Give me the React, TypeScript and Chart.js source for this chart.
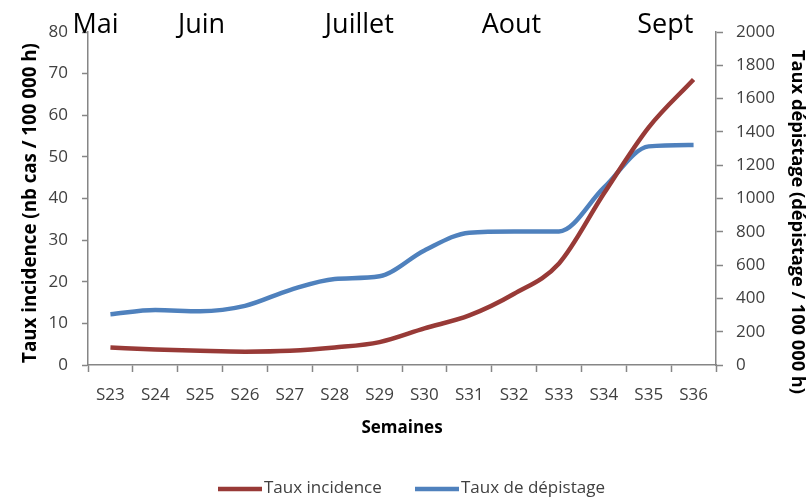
import React, { useEffect, useRef } from "react";
import { Chart, registerables } from "chart.js";

Chart.register(...registerables);

const weeks = ["S23", "S24", "S25", "S26", "S27", "S28", "S29", "S30", "S31", "S32", "S33", "S34", "S35", "S36"];
const incidence = [4.2, 3.7, 3.4, 3.2, 3.4, 4.2, 5.5, 8.8, 11.9, 17.1, 24.4, 41.2, 57.1, 68.6];
const depistage = [305, 330, 323, 355, 450, 517, 533, 688, 795, 802, 802, 1065, 1313, 1322];
const months = ["Mai", "Juin", "Juillet", "Aout", "Sept"];
const monthAnchors = [-0.33, 2.03, 5.55, 8.94, 12.37];
const leftTitle = "Taux incidence (nb cas / 100 000 h)";
const rightTitle = "Taux dépistage (dépistage / 100 000 h)";

const FONT = "'Open Sans', sans-serif";
const RED = "#983A37";
const BLUE = "#4F81BD";
const AXIS = "#868686";
const TEXT = "#404040";

const monthPlugin = {
  id: "months",
  afterDraw(chart: any) {
    const ctx = chart.ctx;
    const x = chart.scales.x;
    ctx.save();
    ctx.font = `27px ${FONT}`;
    ctx.fillStyle = "#000";
    ctx.textAlign = "center";
    ctx.textBaseline = "alphabetic";
    months.forEach((m, i) => {
      ctx.fillText(m, x.getPixelForValue(monthAnchors[i]), 33);
    });
    ctx.restore();
  },
};

function drawFitted(ctx: any, text: string, cx: number, cy: number, len: number, rot: number) {
  ctx.save();
  ctx.font = `bold 18px ${FONT}`;
  const w = ctx.measureText(text).width;
  const size = (18 * len) / w;
  ctx.font = `bold ${size.toFixed(2)}px ${FONT}`;
  ctx.translate(cx, cy);
  ctx.rotate(rot);
  ctx.fillStyle = "#000";
  ctx.textAlign = "center";
  ctx.textBaseline = "middle";
  ctx.fillText(text, 0, 0);
  ctx.restore();
}

const titlePlugin = {
  id: "yTitles",
  afterDraw(chart: any) {
    const ctx = chart.ctx;
    drawFitted(ctx, leftTitle, 31, 203, 320, -Math.PI / 2);
    drawFitted(ctx, rightTitle, 797, 222, 344, Math.PI / 2);
  },
};

const legendPlugin = {
  id: "customLegend",
  afterDraw(chart: any) {
    const ctx = chart.ctx;
    const starts = [218, 415];
    ctx.save();
    ctx.font = `17px ${FONT}`;
    ctx.textBaseline = "middle";
    ctx.textAlign = "left";
    chart.data.datasets.forEach((d: any, i: number) => {
      const x0 = starts[i];
      ctx.strokeStyle = d.borderColor;
      ctx.lineWidth = 4.5;
      ctx.beginPath();
      ctx.moveTo(x0, 489);
      ctx.lineTo(x0 + 44, 489);
      ctx.stroke();
      ctx.fillStyle = TEXT;
      ctx.fillText(d.label, x0 + 46, 488);
    });
    ctx.restore();
  },
};

export default function App() {
  const ref = useRef<HTMLCanvasElement | null>(null);
  useEffect(() => {
    if (!ref.current) return;
    const chart = new Chart(ref.current, {
      type: "line",
      data: {
        labels: weeks,
        datasets: [
          {
            label: "Taux incidence",
            data: incidence,
            borderColor: RED,
            backgroundColor: RED,
            borderWidth: 4.5,
            pointRadius: 0,
            cubicInterpolationMode: "monotone",
            yAxisID: "y",
          },
          {
            label: "Taux de dépistage",
            data: depistage,
            borderColor: BLUE,
            backgroundColor: BLUE,
            borderWidth: 4.5,
            pointRadius: 0,
            cubicInterpolationMode: "monotone",
            yAxisID: "y1",
          },
        ],
      },
      options: {
        animation: false,
        responsive: true,
        maintainAspectRatio: false,
        layout: { padding: { top: 32, left: 0, right: 0, bottom: 0 } },
        plugins: {
          tooltip: { enabled: false },
          legend: { display: false },
        },
        scales: {
          x: {
            offset: true,
            afterFit: (s: any) => {
              s.height = 135;
            },
            grid: { offset: true, drawOnChartArea: false, color: AXIS, tickLength: 7, tickWidth: 1.5 },
            border: { color: AXIS, width: 1.5 },
            ticks: { font: { family: FONT, size: 17 }, color: TEXT, padding: 13, maxRotation: 0 },
            title: {
              display: true,
              text: "Semaines",
              font: { family: FONT, size: 17, weight: "bold" },
              color: "#000",
              padding: { top: 0, bottom: 62 },
            },
          },
          y: {
            position: "left",
            min: 0,
            max: 80,
            afterFit: (s: any) => {
              s.width = 88;
            },
            ticks: { stepSize: 10, font: { family: FONT, size: 17 }, color: TEXT, padding: 14 },
            grid: { drawOnChartArea: false, color: AXIS, tickLength: 6, tickWidth: 1.5 },
            border: { color: AXIS, width: 1.5 },
          },
          y1: {
            position: "right",
            min: 0,
            max: 2000,
            afterFit: (s: any) => {
              s.width = 93;
            },
            ticks: {
              stepSize: 200,
              font: { family: FONT, size: 17 },
              color: TEXT,
              padding: 13,
              callback: (v: any) => String(v),
            },
            grid: { drawOnChartArea: false, color: AXIS, tickLength: 7, tickWidth: 1.5 },
            border: { color: AXIS, width: 1.5 },
          },
        },
      } as any,
      plugins: [monthPlugin, titlePlugin, legendPlugin],
    });
    return () => chart.destroy();
  }, []);
  return (
    <div style={{ position: "fixed", left: 0, top: 0, width: 809, height: 500, background: "#fff" }}>
      <canvas ref={ref} />
    </div>
  );
}
